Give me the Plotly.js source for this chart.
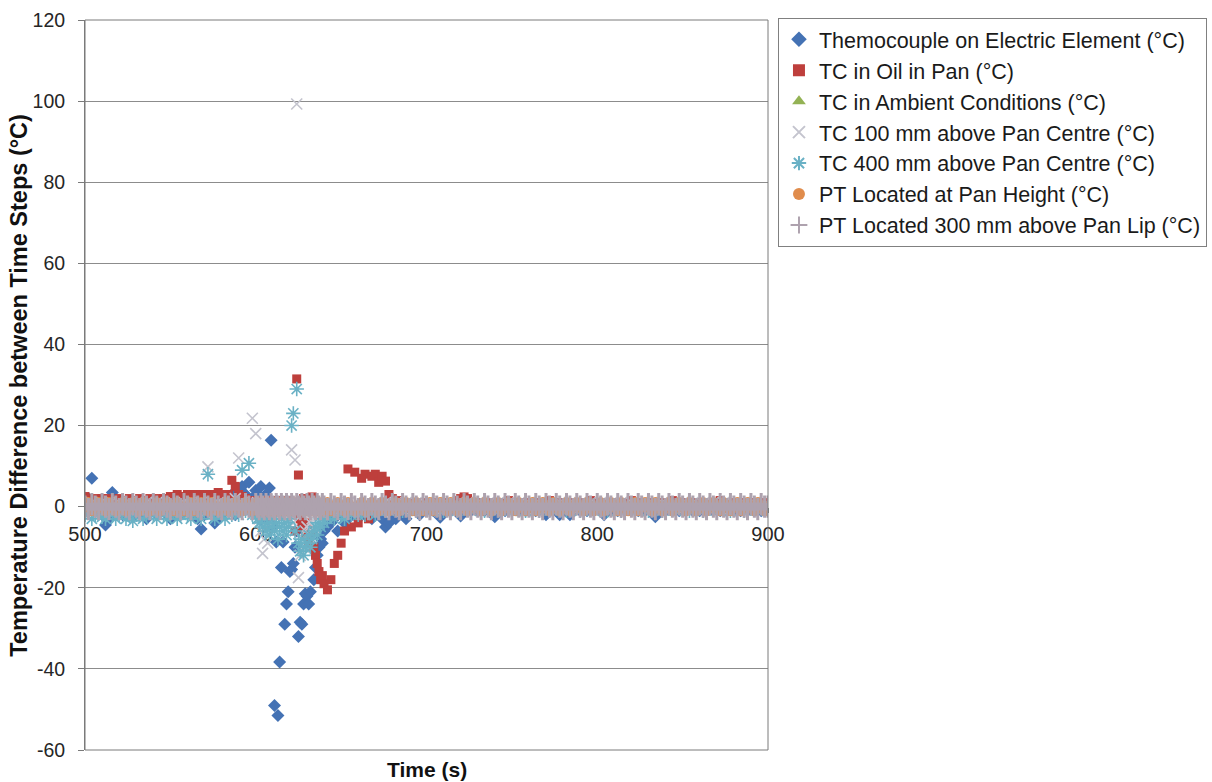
<!DOCTYPE html>
<html>
<head>
<meta charset="utf-8">
<script src="https://cdn.plot.ly/plotly-3.0.1.min.js"></script>
<style>
html,body{margin:0;padding:0;background:#fff;}
#chart{width:1212px;height:782px;}
</style>
</head>
<body>
<div id="chart"></div>
<script>
// Time (s)
const time = [
500,502,504,506,508,510,512,514,516,518,520,522,524,526,528,530,532,534,536,538,
540,542,544,546,548,550,552,554,556,558,560,562,564,566,568,570,572,574,576,578,
580,582,584,586,588,590,592,594,596,598,
600,601,602,603,604,605,606,607,608,609,610,611,612,613,614,615,616,617,618,619,
620,621,622,623,624,625,626,627,628,629,630,631,632,633,634,635,636,637,638,639,640,
642,644,646,648,650,652,654,656,658,660,662,664,666,668,670,672,674,676,678,680,
682,684,686,688,690,692,694,696,698,700,702,704,706,708,710,712,714,716,718,720,
722,724,726,728,730,732,734,736,738,740,742,744,746,748,750,752,754,756,758,760,
762,764,766,768,770,772,774,776,778,780,782,784,786,788,790,792,794,796,798,800,
802,804,806,808,810,812,814,816,818,820,822,824,826,828,830,832,834,836,838,840,
842,844,846,848,850,852,854,856,858,860,862,864,866,868,870,872,874,876,878,880,
882,884,886,888,890,892,894,896,898,900
];

// Themocouple on Electric Element (°C)
const element = [
1,2,7,0.5,-1,-2,-4.5,-3,3.5,0, -1,-2,-1.5,1,-2.5,-1,0.5,-2,-3,-1,
1,-2,-1,0.5,-2,-3,-1,1,-2,2, -1,-2,1,-3,-5.5,-2,0,1.5,-4,-3,
-2,2,-1,3,-2,4,5,3,6,2,
4,3,-2,5,2,-4,3,-3,4.6,16.4, -5,-49,-8.7,-51.5,-38.3,-15,-8.7,-29,-24,-21,
-16,-15.5,-14,-10,-6,-32,-28.5,-29,-24,-21.5, -22,-24,-21,-6.5,-18,-15,-12,-10,-8,-9, -6,
-5,-4,-3,-6,-2,-4,-3,-2,-1,-3, -2,-1,-2,-3,-1,-2,-3,-5,-4,-2,
-3,-1,-2,-3,-1,0,-1,-2,-1,0, -1,-1,0,-2.6,-1,0,-1,0,-1,-2.3,
-1,0,-1,0,-1,0,-1,0,-1,-2.5, -1,0,-1,0,-1,0,-1,0,-1,-1,
0,-1,0,-1,-2,-1,0,-1,-2,-1, 0,-2,-1,0,-1,0,-1,0,-1,0,
-1,-2,0,-1,0,-1,0,-1,0,-1, 0,-1,0,-1,0,-1,-2.5,-1,0,-1,
0,-1,0,-1,0,-1,0,-1,0,-1, 0,-1,0,-1,0,-1,0,-1,0,-1,
0,-1,0,-1,0,-1,0,-1,0,0
];

// TC in Oil in Pan (°C)
const oil = [
2.5,2,1.5,2,1,2,1.5,2,1,1.5, 2,1,1.5,2,1,1.5,2,1,1.5,2,
1.5,2,1,2,1.5,2.5,2,3,2,2.5, 3,2.5,3,2,3,2.5,3,2,3,3.5,
3,2.5,3,6.5,5,3,2.5,2,1.5,1,
1,1.5,1,1,1.5,1,1,1.5,1,1, 1.5,1,1,1.5,1,1,1.5,1,1,1,
1.5,1,1,-6,31.5,7.8,-3,-5,2,-7, -4,-9,-6,2.4,-10,-12,-14,-16,-18,-17, -19,
-20.5,-18,-14,-12,-9,-6,9.3,-5,8.5,-4, 7,8,-3,7.5,8,6,7.5,6.3,3,2,
1,1.5,0.5,1,0,1,0.5,0,1,0.5, 1,0.5,1,0.5,1,0.5,1,0.5,1.5,2,
2.4,2,1,0.5,1,0.5,1,0.5,1,0.5, 1,0.5,1,1.5,1,0.5,1,0.5,1,0.5,
1,0.5,1,0.5,1,1.5,1,0.5,1,0.5, 1,0.5,1,0.5,1,0.5,1,1.5,1,0.5,
1,0.5,1,0.5,1,0.5,1,0.5,1,1.5, 1,0.5,1,0.5,1,0.5,1,0.5,1,0.5,
1,1.5,1,0.5,1,0.5,1,0.5,1,0.5, 1,0.5,1,0.5,1,1.5,1,0.5,1,0.5,
1,0.5,1,0.5,1,0.5,1,0.5,1,0.5
];

// TC in Ambient Conditions (°C)
const ambient = [
0,0.3,0,-0.3,0,0.2,0,-0.2,0,0.3, 0,-0.3,0,0.2,0,-0.2,0,0.3,0,-0.3,
0,0.2,0,-0.2,0,0.3,0,-0.3,0,0.2, 0,-0.2,0,0.3,0,-0.3,0,0.2,0,-0.2,
0,0.3,0,-0.3,0,0.2,0,-0.2,0,0.3,
0,-0.3,0,0.2,0,-0.2,0,0.3,0,-0.3, 0,0.2,0,-0.2,0,0.3,0,-0.3,0,0.2,
0,-0.2,0,0.3,0,-0.3,0,0.2,0,-0.2, 0,0.3,0,-0.3,0,0.2,0,-0.2,0,0.3, 0,
-0.3,0,0.2,0,-0.2,0,0.3,0,-0.3,0, 0.2,0,-0.2,0,0.3,0,-0.3,0,0.2,0,
-0.2,0,0.3,0,-0.3,0,0.2,0,-0.2,0, 0.3,0,-0.3,0,0.2,0,-0.2,0,0.3,0,
-0.3,0,0.2,0,-0.2,0,0.3,0,-0.3,0, 0.2,0,-0.2,0,0.3,0,-0.3,0,0.2,0,
-0.2,0,0.3,0,-0.3,0,0.2,0,-0.2,0, 0.3,0,-0.3,0,0.2,0,-0.2,0,0.3,0,
-0.3,0,0.2,0,-0.2,0,0.3,0,-0.3,0, 0.2,0,-0.2,0,0.3,0,-0.3,0,0.2,0,
-0.2,0,0.3,0,-0.3,0,0.2,0,-0.2,0, 0.3,0,-0.3,0,0.2,0,-0.2,0,0.3,0,
-0.3,0,0.2,0,-0.2,0,0.3,0,-0.3,0
];

// TC 100 mm above Pan Centre (°C)
const tc100 = [
0.5,-1,1,0,-0.5,1,-1,0.5,0,-1, 1,0,-0.5,1,-1,0.5,0,-1,1,0,
-0.5,1,-1,0.5,0,-1,1,0,-0.5,1, -1,0.5,0,-1,1,0,9.8,0,-0.5,1,
-1,0.5,0,-1,2,12,1,-1,0,21.8,
18,1,-3,-6,-11.5,-8,-5,-9,-4,-2, -3,-1,-2,0,-1,-2,-1,0,-1,-3,
-2,14,-4,11.5,99.3,-17.5,-12,-8,-10,-6, -5,-7,-4,-3,-5,-2,-3,-1,-2,-1, -2,
-1,0,-1,0.5,-1,0,1,-0.5,0,1, -1,0.5,0,-1,1,0,-0.5,1,0,-1,
0.5,0,-1,1,0,-0.5,1,0,-1,0.5, 0,-1,1,0,-0.5,1,0,-1,0.5,0,
-1,1,0,-0.5,1,0,-1,0.5,0,-1, 1,0,-0.5,1,0,-1,0.5,0,-1,1,
0,-0.5,1,0,-1,0.5,0,-1,1,0, -0.5,1,0,-1,0.5,0,-1,1,0,-0.5,
1,0,-1,0.5,0,-1,1,0,-0.5,1, 0,-1,0.5,0,-1,1,0,-0.5,1,0,
-1,0.5,0,-1,1,0,-0.5,1,0,-1, 0.5,0,-1,1,0,-0.5,1,0,-1,0.5,
0,-1,1,0,-0.5,1,0,-1,0.5,0
];

// TC 400 mm above Pan Centre (°C)
const tc400 = [
-2,-1,-3,-2,-1,-2.5,-3,-1,-2,-3, -2,-1,-3,-2,-3.5,-2,-1,-3,-2,-1,
-2,-3,-1,-2,-3,-2,-1,-3,-2,-1, -2,-3,-1,-2,-3,-1,8,-2,-3,-1,
-2,-3,-1,-2,-1,-2,9,-1,10.7,-2,
-2,-3,-4,-2,-5,-3,-6,-4,-7,-5, -3,-6,-4,-8,-5,-3,-6,-4,-7,-5,
-3,20,23,-6,29,-9,-11,-8,-12,-10, -9,-7,-10,-8,-6,-5,-7,-4,-5,-3, -4,
-3,-2,-3,-1,-2,-3,-1,-2,-1,-2, -1,-2,-1,-1,-2,-1,0,-1,-1,0,
-0.5,0,-1,0,-0.5,0,-1,0,-0.5,0, -1,0,-0.5,0,-1,0,-0.5,0,-1,0,
-0.5,0,-1,0,-0.5,0,-1,0,-0.5,0, -1,0,-0.5,0,-1,0,-0.5,0,-1,0,
-0.5,0,-1,0,-0.5,0,-1,0,-0.5,0, -1,0,-0.5,0,-1,0,-0.5,0,-1,0,
-0.5,0,-1,0,-0.5,0,-1,0,-0.5,0, -1,0,-0.5,0,-1,0,-0.5,0,-1,0,
-0.5,0,-1,0,-0.5,0,-1,0,-0.5,0, -1,0,-0.5,0,-1,0,-0.5,0,-1,0,
-0.5,0,-1,0,-0.5,0,-1,0,-0.5,0
];

// PT Located at Pan Height (°C)
const ptPan = [
0,1,-1,0,1,0,-1,1,0,-1, 0,1,-1,0,1,0,-1,1,0,-1,
0,1,-1,0,1,0,-1,1,0,-1, 0,1,-1,0,1,0,-1,1,0,-1,
0,1,-1,0,1,0,-1,1,0,-1,
0,1,-1,0,1,0,-1,1,0,-1, 0,1,-1,0,1,0,-1,1,0,-1,
0,1,-1,0,1,0,-1,1,0,-1, 0,1,-1,0,1,0,-1,1,0,-1, 0,
1,-1,0,1,0,-1,1,0,-1,0, 1,-1,0,1,0,-1,1,0,-1,0,
1,-1,0,1,0,-1,1,0,-1,0, 1,-1,0,1,0,-1,1,0,-1,0,
1,-1,0,1,0,-1,1,0,-1,0, 1,-1,0,1,0,-1,1,0,-1,0,
1,-1,0,1,0,-1,1,0,-1,0, 1,-1,0,1,0,-1,1,0,-1,0,
1,-1,0,1,0,-1,1,0,-1,0, 1,-1,0,1,0,-1,1,0,-1,0,
1,-1,0,1,0,-1,1,0,-1,0, 1,-1,0,1,0,-1,1,0,-1,0,
1,-1,0,1,0,-1,1,0,-1,0
];

// PT Located 300 mm above Pan Lip (°C)
const ptLip = [
0,-0.6,0.6,0,-0.6,0.6,0,-0.6,0.6,0, -0.6,0.6,0,-0.6,0.6,0,-0.6,0.6,0,-0.6,
0.6,0,-0.6,0.6,0,-0.6,0.6,0,-0.6,0.6, 0,-0.6,0.6,0,-0.6,0.6,0,-0.6,0.6,0,
-0.6,0.6,0,-0.6,0.6,0,-0.6,0.6,0,-0.6,
0.6,0,-0.6,0.6,0,-0.6,0.6,0,-0.6,0.6, 0,-0.6,0.6,0,-0.6,0.6,0,-0.6,0.6,0,
-0.6,0.6,0,-0.6,0.6,0,-0.6,0.6,0,-0.6, 0.6,0,-0.6,0.6,0,-0.6,0.6,0,-0.6,0.6, 0,
-0.6,0.6,0,-0.6,0.6,0,-0.6,0.6,0,-0.6, 0.6,0,-0.6,0.6,0,-0.6,0.6,0,-0.6,0.6,
0,-0.6,0.6,0,-0.6,0.6,0,-0.6,0.6,0, -0.6,0.6,0,-0.6,0.6,0,-0.6,0.6,0,-0.6,
0.6,0,-0.6,0.6,0,-0.6,0.6,0,-0.6,0.6, 0,-0.6,0.6,0,-0.6,0.6,0,-0.6,0.6,0,
-0.6,0.6,0,-0.6,0.6,0,-0.6,0.6,0,-0.6, 0.6,0,-0.6,0.6,0,-0.6,0.6,0,-0.6,0.6,
0,-0.6,0.6,0,-0.6,0.6,0,-0.6,0.6,0, -0.6,0.6,0,-0.6,0.6,0,-0.6,0.6,0,-0.6,
0.6,0,-0.6,0.6,0,-0.6,0.6,0,-0.6,0.6, 0,-0.6,0.6,0,-0.6,0.6,0,-0.6,0.6,0,
-0.6,0.6,0,-0.6,0.6,0,-0.6,0.6,0,0
];

const seriesNames = [
  "Themocouple on Electric Element (°C)",
  "TC in Oil in Pan (°C)",
  "TC in Ambient Conditions (°C)",
  "TC 100 mm above Pan Centre (°C)",
  "TC 400 mm above Pan Centre (°C)",
  "PT Located at Pan Height (°C)",
  "PT Located 300 mm above Pan Lip (°C)"
];
const seriesValues = [element, oil, ambient, tc100, tc400, ptPan, ptLip];

const styles = [
  {symbol:"diamond", size:10, color:"#4472B4", line:{width:0}},
  {symbol:"square", size:9, color:"#BE3F3C", line:{width:0}},
  {symbol:"triangle-up", size:9, color:"#93B254", line:{width:0}},
  {symbol:"x-thin-open", size:11, color:"#C4C4CE", line:{width:1.6, color:"#C4C4CE"}},
  {symbol:"asterisk-open", size:12, color:"#6AB1C5", line:{width:1.6, color:"#6AB1C5"}},
  {symbol:"circle", size:11, color:"#E08C4C", line:{width:0}},
  {symbol:"cross-thin-open", size:16, color:"#AEA2AE", line:{width:3, color:"#AEA2AE"}}
];

const traces = seriesValues.map((vals, i) => ({
  type: "scatter",
  mode: "markers",
  x: time,
  y: vals,
  name: seriesNames[i],
  legendgroup: "g" + i,
  marker: styles[i],
  cliponaxis: true,
  hoverinfo: "x+y+name"
}));

const FONT = "Liberation Sans, Arial, sans-serif";

const layout = {
  width: 1212,
  height: 782,
  paper_bgcolor: "#ffffff",
  plot_bgcolor: "#ffffff",
  margin: {l: 85, r: 444, t: 20, b: 32, pad: 0, autoexpand: false},
  font: {family: FONT, size: 19, color: "#262626"},
  showlegend: true,
  legend: {
    x: 1.0146, y: 1.003, xanchor: "left", yanchor: "top",
    bordercolor: "#808080", borderwidth: 1,
    bgcolor: "#ffffff",
    font: {family: FONT, size: 21.5, color: "#1a1a1a"},
    traceorder: "grouped",
    tracegroupgap: 0,
    itemwidth: 30,
    itemsizing: "constant"
  },
  xaxis: {
    range: [500, 900],
    tickvals: [500, 600, 700, 800, 900],
    ticktext: ["500", "600", "700", "800", "900"],
    anchor: "free",
    position: 1/3,
    showline: true,
    linecolor: "#7a7a7a",
    linewidth: 1,
    ticks: "outside",
    ticklen: 5,
    tickcolor: "#7a7a7a",
    showgrid: false,
    zeroline: false,
    layer: "below traces",
    ticklabelstandoff: 4,
    tickfont: {family: FONT, size: 20, color: "#262626"}
  },
  yaxis: {
    range: [-60, 120],
    tickvals: [-60, -40, -20, 0, 20, 40, 60, 80, 100, 120],
    ticktext: ["-60", "-40", "-20", "0", "20", "40", "60", "80", "100", "120"],
    showline: true,
    linecolor: "#7a7a7a",
    ticks: "outside",
    ticklen: 6,
    tickcolor: "#7a7a7a",
    showgrid: true,
    gridcolor: "#8c8c8c",
    gridwidth: 1,
    zeroline: false,
    ticklabelstandoff: 9,
    tickfont: {family: FONT, size: 19.5, color: "#262626"}
  },
  shapes: [
    {type: "rect", xref: "paper", yref: "paper", x0: 0, x1: 1, y0: 0, y1: 1,
     line: {color: "#7a7a7a", width: 1}, layer: "above"}
  ],
  annotations: [
    {text: "<b>Time (s)</b>", xref: "paper", yref: "paper", x: 0.5, y: 0,
     xanchor: "center", yanchor: "middle", yshift: -19, showarrow: false,
     font: {family: FONT, size: 21, color: "#111111"}},
    {text: "<b>Temperature Difference between Time Steps (°C)</b>", xref: "paper", yref: "paper",
     x: -0.097, y: 0.5, xanchor: "center", yanchor: "middle", textangle: -90, showarrow: false,
     font: {family: FONT, size: 23.5, color: "#111111"}}
  ]
};

Plotly.newPlot("chart", traces, layout, {displayModeBar: false, staticPlot: true});
</script>
</body>
</html>
